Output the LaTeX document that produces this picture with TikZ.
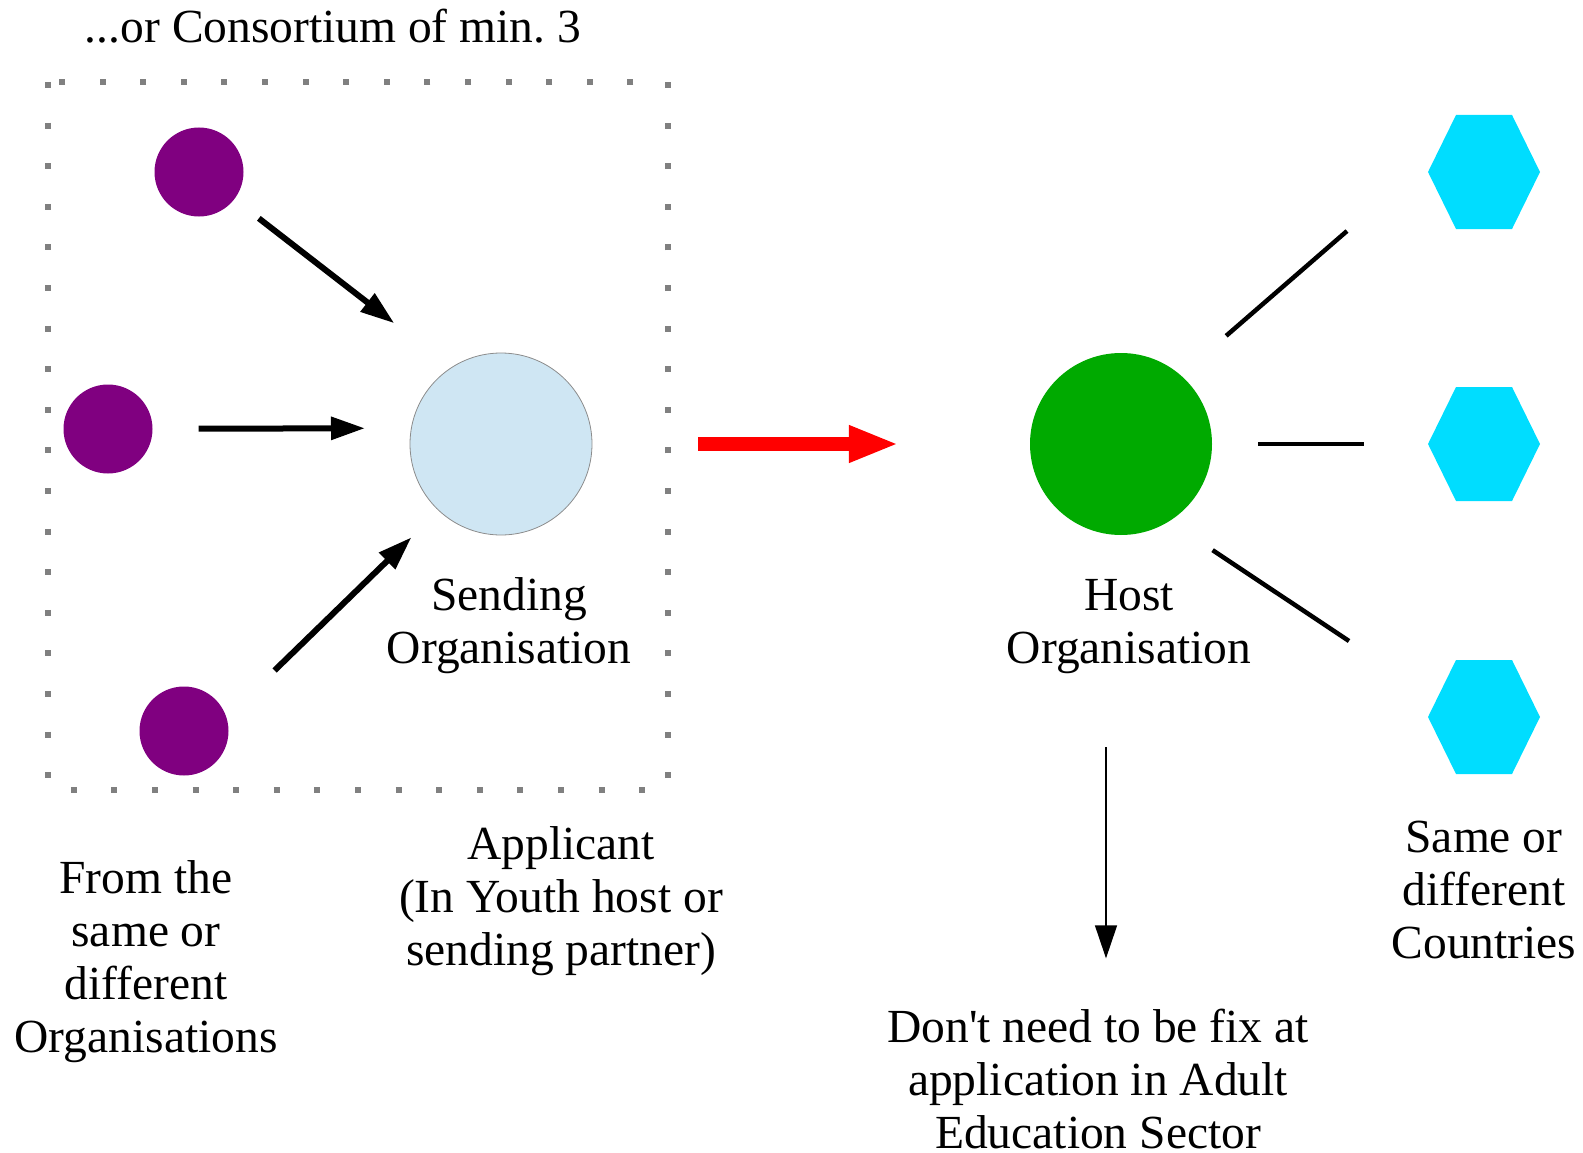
\documentclass[tikz,border=0pt]{standalone}
\usepackage{fontspec}
\setmainfont{Liberation Serif}
\usepackage{tikz}
\usetikzlibrary{arrows.meta}
\definecolor{orgpurple}{RGB}{128,0,128}
\definecolor{sendblue}{RGB}{207,230,243}
\definecolor{hostgreen}{RGB}{0,170,0}
\definecolor{hexcyan}{RGB}{0,221,255}
\frenchspacing

\begin{document}
\begin{tikzpicture}[x=1pt,y=-1pt,
    txt/.style={align=center,inner sep=0pt,font=\fontsize{47.5}{53}\selectfont},
    hexa/.style={fill=hexcyan}]
      \useasboundingbox (0,0) rectangle (1583,1153);
      % consortium frame
      \draw[black!50,line width=6pt,dash pattern=on 6pt off 34.6pt] (48,82) rectangle (668,790);
      \begin{scope}[every node/.style={circle,inner sep=0pt,minimum size=89pt,fill=orgpurple}]
        \node (1) at (199,172) {};
        \node (2) at (108,429) {};
        \node (3) at (184,731) {};
      \end{scope}
      \node[circle,inner sep=0pt,minimum size=182pt,fill=sendblue,draw=black!45,line width=0.8pt] (4) at (501,444) {};
      \node[circle,inner sep=0pt,minimum size=182pt,fill=hostgreen] (5) at (1121,444) {};
      % countries
      \coordinate (6) at (1484,172);
      \coordinate (7) at (1484,444);
      \coordinate (8) at (1484,717);
      \fill[hexa] (6) ++(-56,0) -- ++(28,-57) -- ++(56,0) -- ++(28,57) -- ++(-28,57) -- ++(-56,0) -- cycle;
      \fill[hexa] (7) ++(-56,0) -- ++(28,-57) -- ++(56,0) -- ++(28,57) -- ++(-28,57) -- ++(-56,0) -- cycle;
      \fill[hexa] (8) ++(-56,0) -- ++(28,-57) -- ++(56,0) -- ++(28,57) -- ++(-28,57) -- ++(-56,0) -- cycle;
      \coordinate (9) at (1347,231);
      \coordinate (10) at (1364,444);
      \coordinate (11) at (1349,641);
      \coordinate (12) at (1106,747);
      % texts (base = last line)
      \node[txt,anchor=base] (title) at (333,43) {...or Consortium of min. 3};
      \node[txt,anchor=base] (send) at (509,663) {Sending\\Organisation};
      \node[txt,anchor=base] (host) at (1129,663) {Host\\Organisation};
      \node[txt,anchor=base] (appl) at (561,965) {Applicant\\(In Youth host or\\sending partner)};
      \node[txt,anchor=base] (from) at (146,1052) {From the\\same or\\different\\Organisations};
      \node[txt,anchor=base] (same) at (1484,958) {Same or\\different\\Countries};
      \node[txt,anchor=base] (dont) at (1098,1148) {Don\textquotesingle t need to be fix at\\application in Adult\\Education Sector};
      \begin{scope}[>={Triangle[length=34pt,width=22pt]},every edge/.style={draw=black,line width=6pt}]
        \path[->] (1) edge[shorten <=31pt,shorten >=72pt] (4.123);
        \path[->] (2) edge[shorten <=46pt,shorten >=46pt] (4.170);
        \path[->] (3.18) edge[shorten <=67pt,shorten >=38pt] (4.227);
      \end{scope}
      \path[->,>={Triangle[length=50pt,width=34pt]}] (4) edge[draw=red,line width=14pt,shorten <=106pt,shorten >=131pt] (5);
      \begin{scope}[every edge/.style={draw=black,line width=4.5pt}]
        \path (5.49) edge[shorten <=60pt] (9);
        \path (5.east) edge[shorten <=46pt] (10);
        \path (5.-58) edge[shorten <=52pt] (11);
      \end{scope}
      \draw[->,>={Triangle[length=33pt,width=22pt]},line width=1.3pt,shorten >=50pt] (12) -- (12 |- dont.north);
    \end{tikzpicture}
\end{document}
